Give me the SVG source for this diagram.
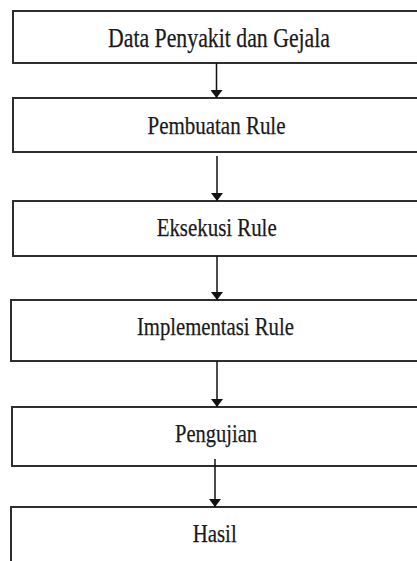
<svg xmlns="http://www.w3.org/2000/svg" width="417" height="561" viewBox="0 0 417 561">
<style>
.box{fill:#fff;stroke:#2e2e2e;stroke-width:2}
.lbl{font-family:"Liberation Serif","Times New Roman",serif;font-size:26px;fill:#1a1a1a;stroke:#1a1a1a;stroke-width:0.25;text-anchor:middle}
.conn{stroke:#111;stroke-width:1.5;fill:none}
</style>
<defs>
<marker id="ah" markerWidth="8" markerHeight="12" refX="8" refY="6" orient="auto" markerUnits="userSpaceOnUse" viewBox="0 0 8 12">
<path d="M0,0 L8,6 L0,12 Z" fill="#111"/>
</marker>
</defs>
<rect width="417" height="561" fill="#fff"/>
<g id="n1"><rect class="box" x="13" y="11" width="420" height="52"/><text class="lbl" x="219" y="47" textLength="222" lengthAdjust="spacingAndGlyphs" style="font-size:27px">Data Penyakit dan Gejala</text></g>
<g id="n2"><rect class="box" x="13" y="98" width="420" height="54"/><text class="lbl" x="216.5" y="134" textLength="138" lengthAdjust="spacingAndGlyphs">Pembuatan Rule</text></g>
<g id="n3"><rect class="box" x="13" y="201" width="420" height="55"/><text class="lbl" x="216.7" y="235.5" textLength="120" lengthAdjust="spacingAndGlyphs">Eksekusi Rule</text></g>
<g id="n4"><rect class="box" x="11" y="300" width="420" height="61"/><text class="lbl" x="215.4" y="334.5" textLength="157" lengthAdjust="spacingAndGlyphs">Implementasi Rule</text></g>
<g id="n5"><rect class="box" x="12" y="407" width="420" height="59"/><text class="lbl" x="216" y="441.5" textLength="82" lengthAdjust="spacingAndGlyphs">Pengujian</text></g>
<g id="n6"><rect class="box" x="11" y="507" width="420" height="80"/><text class="lbl" x="214.7" y="541.5" textLength="44" lengthAdjust="spacingAndGlyphs">Hasil</text></g>
<g id="connectors">
<line class="conn" x1="216.5" y1="63" x2="216.5" y2="98" marker-end="url(#ah)"/>
<line class="conn" x1="217" y1="156" x2="217" y2="201" marker-end="url(#ah)"/>
<line class="conn" x1="217" y1="256" x2="217" y2="300" marker-end="url(#ah)"/>
<line class="conn" x1="217" y1="361" x2="217" y2="407" marker-end="url(#ah)"/>
<line class="conn" x1="215" y1="459" x2="215" y2="507" marker-end="url(#ah)"/>
</g>
</svg>
